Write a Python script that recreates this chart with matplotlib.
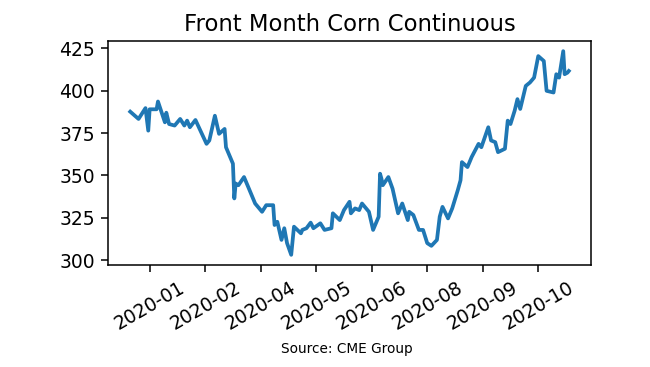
import matplotlib

matplotlib.use("Agg")
import matplotlib.dates as mdates
import matplotlib.pyplot as plt
import pandas as pd
from matplotlib.ticker import FixedLocator

# Front month corn settle (cents/bu)
dates = [
    "2020-01-02", "2020-01-08", "2020-01-13", "2020-01-15", "2020-01-16",
    "2020-01-21", "2020-01-22", "2020-01-27", "2020-01-28", "2020-01-30",
    "2020-02-03", "2020-02-07", "2020-02-10", "2020-02-12", "2020-02-14",
    "2020-02-18", "2020-02-26", "2020-02-28", "2020-03-03", "2020-03-06",
    "2020-03-10", "2020-03-11", "2020-03-16", "2020-03-17", "2020-03-18",
    "2020-03-20", "2020-03-24", "2020-03-27", "2020-04-01", "2020-04-06",
    "2020-04-09", "2020-04-14", "2020-04-15", "2020-04-17", "2020-04-20",
    "2020-04-22", "2020-04-24", "2020-04-27", "2020-04-29", "2020-05-04",
    "2020-05-05", "2020-05-08", "2020-05-11", "2020-05-13", "2020-05-18",
    "2020-05-21", "2020-05-26", "2020-05-27", "2020-06-01", "2020-06-04",
    "2020-06-08", "2020-06-09", "2020-06-12", "2020-06-15", "2020-06-17",
    "2020-06-22", "2020-06-25", "2020-06-29", "2020-06-30", "2020-07-01",
    "2020-07-02", "2020-07-06", "2020-07-09", "2020-07-13", "2020-07-16",
    "2020-07-20", "2020-07-21", "2020-07-24", "2020-07-28", "2020-07-31",
    "2020-08-03", "2020-08-06", "2020-08-10", "2020-08-12", "2020-08-14",
    "2020-08-18", "2020-08-21", "2020-08-25", "2020-08-27", "2020-08-28",
    "2020-09-01", "2020-09-03", "2020-09-04", "2020-09-09", "2020-09-11",
    "2020-09-16", "2020-09-18", "2020-09-21", "2020-09-23", "2020-09-28",
    "2020-09-30", "2020-10-02", "2020-10-05", "2020-10-07", "2020-10-09",
    "2020-10-13", "2020-10-16", "2020-10-19", "2020-10-22", "2020-10-26",
    "2020-10-28", "2020-11-02", "2020-11-04", "2020-11-06", "2020-11-09",
    "2020-11-10", "2020-11-12", "2020-11-13",
]
prices = [
    387.6, 383.3, 389.7, 376.4, 389.0,
    389.0, 393.6, 381.3, 387.0, 380.3,
    379.4, 383.3, 379.4, 382.3, 378.4,
    382.7, 368.6, 370.6, 385.2, 374.5,
    377.4, 366.6, 356.9, 336.4, 345.2,
    344.2, 349.0, 343.2, 333.4, 328.5,
    332.4, 332.4, 320.7, 322.6, 311.9,
    318.8, 310.0, 303.1, 319.7, 315.8,
    317.8, 318.8, 322.1, 318.8, 321.7,
    317.8, 318.8, 327.6, 323.6, 329.5,
    334.4, 327.6, 330.5, 329.5, 333.4,
    328.5, 317.8, 325.6, 351.0, 348.1,
    344.2, 349.0, 342.2, 327.6, 333.4,
    323.6, 328.5, 326.6, 317.8, 317.8,
    310.0, 308.4, 311.9, 325.6, 331.4,
    324.6, 330.5, 341.2, 347.1, 357.8,
    354.9, 358.8, 360.8, 368.6, 366.6,
    378.4, 370.6, 369.6, 363.7, 365.7,
    382.3, 380.3, 388.2, 395.0, 389.2,
    402.8, 404.8, 407.7, 420.4, 417.5,
    399.9, 398.9, 409.7, 407.7, 423.3,
    409.7, 410.6, 411.6,
]
y_ticks = [300, 325, 350, 375, 400, 425]

series = pd.Series(prices, index=pd.to_datetime(dates))

# tick positions every 40 days, as in the source chart
tick_dates = pd.date_range("2020-01-16", periods=8, freq="40D")

fig = plt.figure(figsize=(6.5, 3.67), dpi=100)
ax = fig.add_axes([0.1666, 0.2779, 0.7422, 0.6104])
ax.plot(series.index, series.values, color="#1f77b4", linewidth=2.7)

ax.set_yticks(y_ticks)
ax.xaxis.set_major_locator(FixedLocator(mdates.date2num(tick_dates)))
ax.xaxis.set_major_formatter(mdates.DateFormatter("%Y-%m"))
ax.tick_params(axis="both", labelsize=13.5, length=4.8, width=1.1, pad=4.8)
for lbl in ax.get_xticklabels():
    lbl.set_rotation(30)
for spine in ax.spines.values():
    spine.set_linewidth(1.1)

ax.set_title("Front Month Corn Continuous", fontsize=16.4, pad=7)
fig.text(0.534, 0.049, "Source: CME Group", ha="center", va="center", fontsize=9.8)

fig.savefig("out.png", dpi=100)
plt.close(fig)
